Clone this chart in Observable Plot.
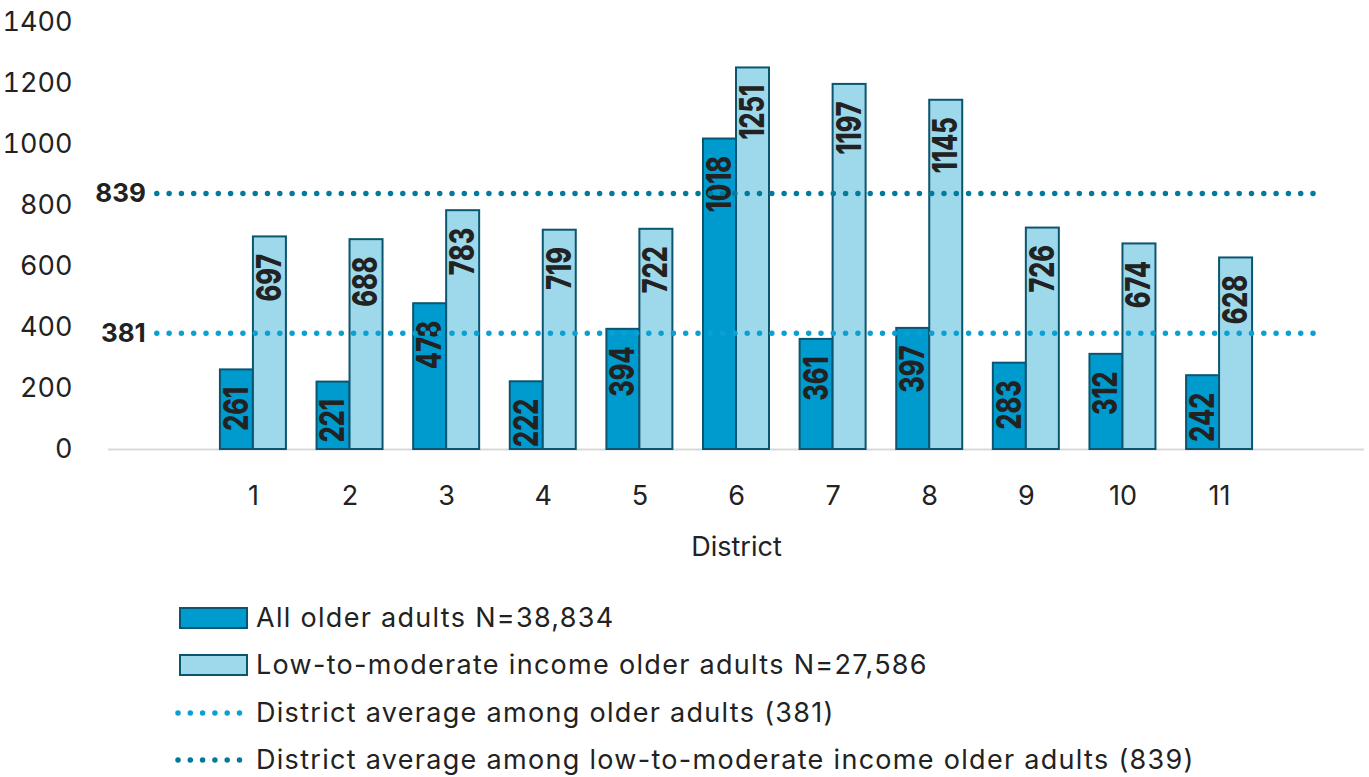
<!DOCTYPE html>
<html>
<head>
<meta charset="utf-8">
<script src="https://cdn.jsdelivr.net/npm/d3@7"></script>
<script src="https://cdn.jsdelivr.net/npm/@observablehq/plot@0.6"></script>
<style>
  html, body { margin: 0; padding: 0; background: #fff; }
  body { width: 1369px; height: 777px; overflow: hidden; font-family: Inter, "Open Sans", sans-serif; color: #222; }
  #chart svg { display: block; }
  #legend { display: block; }
</style>
</head>
<body>
<div id="chart"></div>
<div id="legend"></div>
<script>
// Number of older adults per district
const districts = [1, 2, 3, 4, 5, 6, 7, 8, 9, 10, 11];
const allOlderAdults = [261, 221, 478, 222, 394, 1018, 361, 397, 283, 312, 242];
const lowModIncome = [697, 688, 783, 719, 722, 1251, 1197, 1145, 726, 674, 628];

// District averages
const avgAll = 381;
const avgLowMod = 839;

const yTicks = [0, 200, 400, 600, 800, 1000, 1200, 1400];

const seriesNames = [
  "All older adults N=38,834",
  "Low-to-moderate income older adults N=27,586",
  "District average among older adults (381)",
  "District average among low-to-moderate income older adults (839)"
];

const colorDark = "#009bce";
const colorLight = "#9ed9eb";
const colorEdge = "#0b5570";
const colorAvgAll = "#0aa0d2";
const colorAvgLow = "#027a9b";
const ink = "#222222";
const font = "Inter, 'Open Sans', sans-serif";

// Category slots: an empty slot on each side of the eleven districts
const slots = [0, ...districts, districts.length + 1];

const rows = districts.map((d, i) => ({district: d, all: allOlderAdults[i], low: lowModIncome[i]}));

// Each district band holds two adjacent bars
const band = (1369 - 108 - 5) / slots.length;
const barW = 33;
const side = (band - 2 * barW) / 2;

const valueLabel = {
  rotate: -90, textAnchor: "end", dy: 17, fontSize: 34, fontWeight: 800,
  fill: ink, className: "value-label"
};

const chart = Plot.plot({
  width: 1369,
  height: 575,
  marginLeft: 108,
  marginRight: 5,
  marginTop: 22,
  marginBottom: 126,
  style: {fontFamily: font, color: ink, background: "#fff"},
  x: {type: "band", domain: slots, padding: 0, round: false},
  y: {domain: [0, 1400]},
  marks: [
    Plot.axisY({
      ticks: yTicks, tickFormat: (d) => String(d), tickSize: 0, tickPadding: 36,
      fontSize: 27, label: null, fill: ink
    }),
    Plot.axisX({
      tickSize: 0, tickPadding: 36, fontSize: 27, fill: ink,
      tickFormat: (d) => (d >= 1 && d <= districts.length ? String(d) : ""),
      label: null
    }),
    Plot.text(["District"], {
      frameAnchor: "bottom", lineAnchor: "middle", dy: 98, fontSize: 27, fill: ink,
      style: {letterSpacing: "1.3px"}
    }),
    Plot.ruleY([0], {stroke: "#d9d9d9", strokeWidth: 2}),
    Plot.barY(rows, {
      x: "district", y: "all", fill: colorDark, stroke: colorEdge, strokeWidth: 2,
      insetLeft: side, insetRight: side + barW
    }),
    Plot.barY(rows, {
      x: "district", y: "low", fill: colorLight, stroke: colorEdge, strokeWidth: 2,
      insetLeft: side + barW, insetRight: side
    }),
    Plot.text(rows, {...valueLabel, x: "district", y: "all", text: (d) => String(d.all), dx: -barW / 2}),
    Plot.text(rows, {...valueLabel, x: "district", y: "low", text: (d) => String(d.low), dx: barW / 2}),
    // Dotted average lines, from the first empty slot to the last
    Plot.lineY([slots[0], slots[slots.length - 1]], {
      x: (d) => d, y: () => avgAll, stroke: colorAvgAll, strokeWidth: 5.5,
      strokeDasharray: "0 12.3", strokeLinecap: "round"
    }),
    Plot.lineY([slots[0], slots[slots.length - 1]], {
      x: (d) => d, y: () => avgLowMod, stroke: colorAvgLow, strokeWidth: 5.5,
      strokeDasharray: "0 12.3", strokeLinecap: "round"
    }),
    Plot.text([avgAll, avgLowMod], {
      x: () => slots[0], y: (d) => d, text: (d) => String(d),
      textAnchor: "end", dx: -11, fontSize: 26, fontWeight: 700, fill: ink
    })
  ]
});

// Condensed look for the bar value labels: squeeze along the text direction
d3.select(chart).selectAll(".value-label text").each(function () {
  const t = this.getAttribute("transform") || "";
  this.setAttribute("transform", t + " scale(0.74,1)");
});
document.getElementById("chart").appendChild(chart);

// Legend below the chart
const legend = d3.select("#legend").append("svg")
  .attr("width", 1369).attr("height", 202)
  .style("font-family", font);

const rowY = [43, 90, 138, 185];
const swX = 180, swW = 67, swH = 20, textX = 256;

[colorDark, colorLight].forEach((c, i) => {
  legend.append("rect")
    .attr("x", swX).attr("y", rowY[i] - swH / 2)
    .attr("width", swW).attr("height", swH)
    .attr("fill", c).attr("stroke", colorEdge).attr("stroke-width", 2);
});
[colorAvgAll, colorAvgLow].forEach((c, i) => {
  legend.append("line")
    .attr("x1", swX - 2).attr("x2", swX + swW)
    .attr("y1", rowY[i + 2]).attr("y2", rowY[i + 2])
    .attr("stroke", c).attr("stroke-width", 5.5)
    .attr("stroke-dasharray", "0 12.3").attr("stroke-linecap", "round");
});
seriesNames.forEach((name, i) => {
  legend.append("text")
    .attr("x", textX).attr("y", rowY[i])
    .attr("dy", "0.35em")
    .attr("font-size", 27)
    .attr("letter-spacing", "1.3px")
    .attr("fill", ink)
    .text(name);
});
</script>
</body>
</html>
